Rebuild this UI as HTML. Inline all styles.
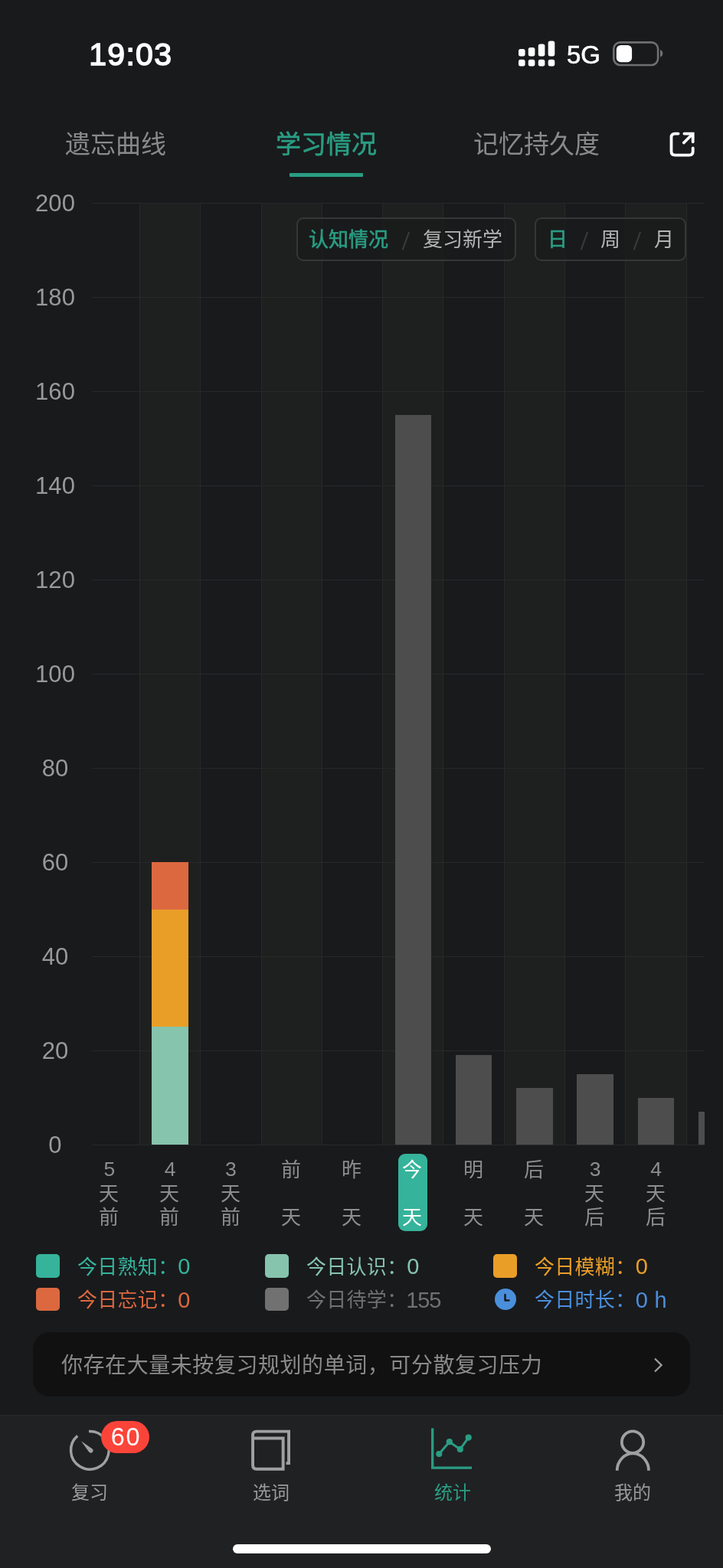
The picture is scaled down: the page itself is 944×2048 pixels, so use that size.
<!DOCTYPE html>
<html lang="zh-CN"><head><meta charset="utf-8"><title>统计 - 学习情况</title>
<style>
*{margin:0;padding:0;box-sizing:border-box}
html,body{width:944px;height:2048px;background:#191a1c;overflow:hidden}
body{position:relative;will-change:transform;font-family:"Liberation Sans",sans-serif;color:#fff}
svg{display:block;overflow:visible}
svg text{font-family:"Liberation Sans","Noto Sans CJK SC",sans-serif}
.abs{position:absolute}
.status .time{position:absolute;left:116.2px;top:47.2px;font-size:41px;line-height:48px;letter-spacing:1.3px;-webkit-text-stroke:1.5px #fff}
.status .net{position:absolute;left:740px;top:53px;font-size:33px;line-height:38px;-webkit-text-stroke:0.6px #fff}
.tabs svg{position:absolute}
.tabs .ul{position:absolute;left:378px;top:226px;width:96px;height:5px;background:#2a9d83;border-radius:1px}
.chart{position:absolute;left:120px;top:250px;width:800px;height:1246px;overflow:hidden}
.chart .stripe{position:absolute;top:15px;height:1230px;background:#1e201f}
.chart .vl{position:absolute;top:15px;height:1230px;width:1px;background:#272929}
.chart .hl{position:absolute;left:0;width:800px;height:1px;background:#272929}
.chart .bar{position:absolute;width:47.5px}
.ylab{position:absolute;left:32px;width:80px;text-align:center;font-size:31px;line-height:32px;color:#999;letter-spacing:.15px;padding-left:.15px}
.seg{position:absolute;top:284px;height:57px;border:2px solid #353737;border-radius:9px;background:rgba(25,26,28,.72)}
.seg svg{position:absolute;top:12.8px}
.seg .sl{position:absolute;top:15.5px;width:1.6px;height:24.5px;background:#3a3c3c;transform:rotate(20deg)}
.xl{position:absolute;top:1512px;width:40px;text-align:center;color:#8e8e8e;font-size:26.5px;line-height:31.3px}
.xl svg{position:absolute;left:6.2px}
.xl .d{position:absolute;left:0;width:40px;top:0}
.pill{position:absolute;left:520px;top:1507px;width:38px;height:101px;border-radius:9px;background:#35b39b}
.lg{position:absolute;height:34px}
.lg .sq{position:absolute;left:0;top:2px;width:31px;height:30px;border-radius:5px}
.lg .tx{position:absolute;left:53.8px;top:4.3px;display:flex;align-items:flex-start;white-space:nowrap}
.lg .n{word-spacing:2.5px;font-size:29px;line-height:28px;letter-spacing:-.9px;margin-left:.4px;position:relative;top:-.4px}
.banner{position:absolute;left:43px;top:1740px;width:858px;height:84px;border-radius:22px;background:#111}
.banner svg{position:absolute}
.tabbar{position:absolute;left:0;top:1848px;width:944px;height:200px;background:#202123}
.tabbar::before{content:'';position:absolute;left:0;top:-.4px;width:944px;height:1.3px;background:#282a2a}
.tabbar svg{position:absolute}
.badge{position:absolute;left:132.1px;top:8.2px;width:63.3px;height:42.3px;border-radius:21.2px;background:#fb4439;color:#fff;font-size:32.5px;line-height:42.3px;text-align:center;letter-spacing:1.6px;padding-left:1.6px}
.home{position:absolute;left:304px;top:169px;width:337px;height:12px;border-radius:6px;background:#fff}
</style></head>
<body>
<header class="status">
<div class="time">19:03</div>
<svg class="abs" style="left:0;top:0;width:944px;height:110px" viewBox="0 0 944 110" fill="#fff"><rect x="677" y="64.1" width="8.6" height="9.3" rx="2.6"/><rect x="677" y="77.8" width="8.6" height="8.6" rx="2.6"/><rect x="689.8" y="61.9" width="8.6" height="11.5" rx="2.6"/><rect x="689.8" y="77.8" width="8.6" height="8.6" rx="2.6"/><rect x="702.8" y="57.5" width="8.6" height="15.9" rx="2.6"/><rect x="702.8" y="77.8" width="8.6" height="8.6" rx="2.6"/><rect x="715.7" y="53.6" width="8.6" height="19.8" rx="2.6"/><rect x="715.7" y="77.8" width="8.6" height="8.6" rx="2.6"/><rect x="801.3" y="55.4" width="57.8" height="29.6" rx="8.4" fill="none" stroke="#6e7070" stroke-width="2.6"/><rect x="804.8" y="58.9" width="20.3" height="22.4" rx="5.8"/><path d="M862 65 C866.5 66.5 866.5 73 862 74.6 Z" fill="#6e7070"/></svg>
<div class="net">5G</div>
</header>
<nav class="tabs">
<svg role="img" aria-label="遗忘曲线" viewBox="0 -880 4000 1000" style="width:132.00px;height:33.00px;fill:#8a8a8a;left:85px;top:171px"><title>遗忘曲线</title><text x="0" y="0" font-size="1000">遗忘曲线</text></svg>
<svg role="img" aria-label="学习情况" viewBox="0 -880 4000 1000" style="width:132.00px;height:33.00px;fill:#2a9d83;stroke:#2a9d83;stroke-width:18;left:359.5px;top:171px"><title>学习情况</title><text x="0" y="0" font-size="1000">学习情况</text></svg>
<svg role="img" aria-label="记忆持久度" viewBox="0 -880 5000 1000" style="width:165.00px;height:33.00px;fill:#8a8a8a;left:617.5px;top:171px"><title>记忆持久度</title><text x="0" y="0" font-size="1000">记忆持久度</text></svg>
<div class="ul"></div>
<svg style="left:870px;top:168px;width:40px;height:40px" viewBox="870 168 40 40" fill="none" stroke="#fff" stroke-width="3.8" stroke-linecap="round"><path d="M885.6 174.6H881.3Q876.5 174.6 876.5 179.4V197.8Q876.5 202.6 881.3 202.6H899.9Q904.7 202.6 904.7 197.8V193.3"/><path d="M893.4 174.6H904.7V185.3" stroke-linejoin="miter"/><path d="M904.3 175L892.8 186.5"/></svg>
</nav>
<div class="chart">
<div class="stripe" style="left:62.5px;width:79.3px"></div>
<div class="stripe" style="left:221.1px;width:79.3px"></div>
<div class="stripe" style="left:379.7px;width:79.3px"></div>
<div class="stripe" style="left:538.2px;width:79.3px"></div>
<div class="stripe" style="left:696.8px;width:79.3px"></div>
<div class="vl" style="left:62.0px"></div>
<div class="vl" style="left:141.3px"></div>
<div class="vl" style="left:220.6px"></div>
<div class="vl" style="left:299.9px"></div>
<div class="vl" style="left:379.2px"></div>
<div class="vl" style="left:458.4px"></div>
<div class="vl" style="left:537.7px"></div>
<div class="vl" style="left:617.0px"></div>
<div class="vl" style="left:696.3px"></div>
<div class="vl" style="left:775.6px"></div>
<div class="hl" style="top:1244.5px"></div>
<div class="hl" style="top:1121.5px"></div>
<div class="hl" style="top:998.5px"></div>
<div class="hl" style="top:875.5px"></div>
<div class="hl" style="top:752.5px"></div>
<div class="hl" style="top:629.5px"></div>
<div class="hl" style="top:506.5px"></div>
<div class="hl" style="top:383.5px"></div>
<div class="hl" style="top:260.5px"></div>
<div class="hl" style="top:137.5px"></div>
<div class="hl" style="top:14.5px"></div>
<div class="bar" style="left:78.4px;top:1091.2px;height:153.8px;background:#86c4ad"></div>
<div class="bar" style="left:78.4px;top:937.5px;height:153.8px;background:#e99e28"></div>
<div class="bar" style="left:78.4px;top:876.0px;height:61.5px;background:#dc6840"></div>
<div class="bar" style="left:395.5px;top:291.8px;height:953.2px;background:#4d4d4d"></div>
<div class="bar" style="left:474.8px;top:1128.2px;height:116.9px;background:#4d4d4d"></div>
<div class="bar" style="left:554.1px;top:1171.2px;height:73.8px;background:#4d4d4d"></div>
<div class="bar" style="left:633.4px;top:1152.8px;height:92.2px;background:#4d4d4d"></div>
<div class="bar" style="left:712.7px;top:1183.5px;height:61.5px;background:#4d4d4d"></div>
<div class="bar" style="left:792.0px;top:1202.0px;height:43.1px;background:#4d4d4d"></div>
</div>
<div class="ylab" style="top:1479.7px">0</div>
<div class="ylab" style="top:1356.7px">20</div>
<div class="ylab" style="top:1233.7px">40</div>
<div class="ylab" style="top:1110.7px">60</div>
<div class="ylab" style="top:987.7px">80</div>
<div class="ylab" style="top:864.7px">100</div>
<div class="ylab" style="top:741.7px">120</div>
<div class="ylab" style="top:618.7px">140</div>
<div class="ylab" style="top:495.7px">160</div>
<div class="ylab" style="top:372.7px">180</div>
<div class="ylab" style="top:249.7px">200</div>
<div class="seg" style="left:387px;width:287px"><svg role="img" aria-label="认知情况" viewBox="0 -880 4000 1000" style="width:104.00px;height:26.00px;fill:#2a9d83;stroke:#2a9d83;stroke-width:24;left:14.4px"><title>认知情况</title><text x="0" y="0" font-size="1000">认知情况</text></svg><div class="sl" style="left:139.5px"></div><svg role="img" aria-label="复习新学" viewBox="0 -880 4000 1000" style="width:104.00px;height:26.00px;fill:#b4b4b4;left:162.5px"><title>复习新学</title><text x="0" y="0" font-size="1000">复习新学</text></svg></div>
<div class="seg" style="left:698px;width:198px"><svg role="img" aria-label="日" viewBox="0 -880 1000 1000" style="width:26.00px;height:26.00px;fill:#2a9d83;stroke:#2a9d83;stroke-width:24;left:15px"><title>日</title><text x="0" y="0" font-size="1000">日</text></svg><div class="sl" style="left:61.5px"></div><svg role="img" aria-label="周" viewBox="0 -880 1000 1000" style="width:26.00px;height:26.00px;fill:#b4b4b4;left:84.2px"><title>周</title><text x="0" y="0" font-size="1000">周</text></svg><div class="sl" style="left:130.5px"></div><svg role="img" aria-label="月" viewBox="0 -880 1000 1000" style="width:26.00px;height:26.00px;fill:#b4b4b4;left:154.3px"><title>月</title><text x="0" y="0" font-size="1000">月</text></svg></div>
<div class="pill"></div>
<div class="xl" style="left:122.8px;color:#8e8e8e"><div class="d" style="top:0.0px">5</div><svg role="img" aria-label="天" viewBox="0 -880 1000 1000" style="width:26.00px;height:26.00px;fill:#8e8e8e;top:33.0px"><title>天</title><text x="0" y="0" font-size="1000">天</text></svg><svg role="img" aria-label="前" viewBox="0 -880 1000 1000" style="width:26.00px;height:26.00px;fill:#8e8e8e;top:64.3px"><title>前</title><text x="0" y="0" font-size="1000">前</text></svg></div>
<div class="xl" style="left:202.1px;color:#8e8e8e"><div class="d" style="top:0.0px">4</div><svg role="img" aria-label="天" viewBox="0 -880 1000 1000" style="width:26.00px;height:26.00px;fill:#8e8e8e;top:33.0px"><title>天</title><text x="0" y="0" font-size="1000">天</text></svg><svg role="img" aria-label="前" viewBox="0 -880 1000 1000" style="width:26.00px;height:26.00px;fill:#8e8e8e;top:64.3px"><title>前</title><text x="0" y="0" font-size="1000">前</text></svg></div>
<div class="xl" style="left:281.4px;color:#8e8e8e"><div class="d" style="top:0.0px">3</div><svg role="img" aria-label="天" viewBox="0 -880 1000 1000" style="width:26.00px;height:26.00px;fill:#8e8e8e;top:33.0px"><title>天</title><text x="0" y="0" font-size="1000">天</text></svg><svg role="img" aria-label="前" viewBox="0 -880 1000 1000" style="width:26.00px;height:26.00px;fill:#8e8e8e;top:64.3px"><title>前</title><text x="0" y="0" font-size="1000">前</text></svg></div>
<div class="xl" style="left:360.7px;color:#8e8e8e"><svg role="img" aria-label="前" viewBox="0 -880 1000 1000" style="width:26.00px;height:26.00px;fill:#8e8e8e;top:1.7px"><title>前</title><text x="0" y="0" font-size="1000">前</text></svg><svg role="img" aria-label="天" viewBox="0 -880 1000 1000" style="width:26.00px;height:26.00px;fill:#8e8e8e;top:64.3px"><title>天</title><text x="0" y="0" font-size="1000">天</text></svg></div>
<div class="xl" style="left:440.0px;color:#8e8e8e"><svg role="img" aria-label="昨" viewBox="0 -880 1000 1000" style="width:26.00px;height:26.00px;fill:#8e8e8e;top:1.7px"><title>昨</title><text x="0" y="0" font-size="1000">昨</text></svg><svg role="img" aria-label="天" viewBox="0 -880 1000 1000" style="width:26.00px;height:26.00px;fill:#8e8e8e;top:64.3px"><title>天</title><text x="0" y="0" font-size="1000">天</text></svg></div>
<div class="xl" style="left:519.3px;color:#fff"><svg role="img" aria-label="今" viewBox="0 -880 1000 1000" style="width:26.00px;height:26.00px;fill:#fff;top:1.7px"><title>今</title><text x="0" y="0" font-size="1000">今</text></svg><svg role="img" aria-label="天" viewBox="0 -880 1000 1000" style="width:26.00px;height:26.00px;fill:#fff;top:64.3px"><title>天</title><text x="0" y="0" font-size="1000">天</text></svg></div>
<div class="xl" style="left:598.6px;color:#8e8e8e"><svg role="img" aria-label="明" viewBox="0 -880 1000 1000" style="width:26.00px;height:26.00px;fill:#8e8e8e;top:1.7px"><title>明</title><text x="0" y="0" font-size="1000">明</text></svg><svg role="img" aria-label="天" viewBox="0 -880 1000 1000" style="width:26.00px;height:26.00px;fill:#8e8e8e;top:64.3px"><title>天</title><text x="0" y="0" font-size="1000">天</text></svg></div>
<div class="xl" style="left:677.9px;color:#8e8e8e"><svg role="img" aria-label="后" viewBox="0 -880 1000 1000" style="width:26.00px;height:26.00px;fill:#8e8e8e;top:1.7px"><title>后</title><text x="0" y="0" font-size="1000">后</text></svg><svg role="img" aria-label="天" viewBox="0 -880 1000 1000" style="width:26.00px;height:26.00px;fill:#8e8e8e;top:64.3px"><title>天</title><text x="0" y="0" font-size="1000">天</text></svg></div>
<div class="xl" style="left:757.2px;color:#8e8e8e"><div class="d" style="top:0.0px">3</div><svg role="img" aria-label="天" viewBox="0 -880 1000 1000" style="width:26.00px;height:26.00px;fill:#8e8e8e;top:33.0px"><title>天</title><text x="0" y="0" font-size="1000">天</text></svg><svg role="img" aria-label="后" viewBox="0 -880 1000 1000" style="width:26.00px;height:26.00px;fill:#8e8e8e;top:64.3px"><title>后</title><text x="0" y="0" font-size="1000">后</text></svg></div>
<div class="xl" style="left:836.5px;color:#8e8e8e"><div class="d" style="top:0.0px">4</div><svg role="img" aria-label="天" viewBox="0 -880 1000 1000" style="width:26.00px;height:26.00px;fill:#8e8e8e;top:33.0px"><title>天</title><text x="0" y="0" font-size="1000">天</text></svg><svg role="img" aria-label="后" viewBox="0 -880 1000 1000" style="width:26.00px;height:26.00px;fill:#8e8e8e;top:64.3px"><title>后</title><text x="0" y="0" font-size="1000">后</text></svg></div>
<div class="lg" style="left:46.8px;top:1636.5px;color:#35b39b"><div class="sq" style="background:#35b39b;top:1.5px;height:31px"></div><div class="tx"><svg role="img" aria-label="今日熟知：" viewBox="0 -880 5046 1000" style="width:131.20px;height:26.00px;fill:#35b39b;"><title>今日熟知：</title><text x="0" y="0" font-size="1000" letter-spacing="11.5">今日熟知：</text></svg><span class="n">0</span></div></div>
<div class="lg" style="left:345.9px;top:1636.5px;color:#86c4ad"><div class="sq" style="background:#86c4ad;top:1.5px;height:31px"></div><div class="tx"><svg role="img" aria-label="今日认识：" viewBox="0 -880 5046 1000" style="width:131.20px;height:26.00px;fill:#86c4ad;"><title>今日认识：</title><text x="0" y="0" font-size="1000" letter-spacing="11.5">今日认识：</text></svg><span class="n">0</span></div></div>
<div class="lg" style="left:644.3px;top:1636.5px;color:#e99e28"><div class="sq" style="background:#e99e28;top:1.5px;height:31px"></div><div class="tx"><svg role="img" aria-label="今日模糊：" viewBox="0 -880 5046 1000" style="width:131.20px;height:26.00px;fill:#e99e28;"><title>今日模糊：</title><text x="0" y="0" font-size="1000" letter-spacing="11.5">今日模糊：</text></svg><span class="n">0</span></div></div>
<div class="lg" style="left:46.8px;top:1680px;color:#dc6840"><div class="sq" style="background:#dc6840;"></div><div class="tx"><svg role="img" aria-label="今日忘记：" viewBox="0 -880 5046 1000" style="width:131.20px;height:26.00px;fill:#dc6840;"><title>今日忘记：</title><text x="0" y="0" font-size="1000" letter-spacing="11.5">今日忘记：</text></svg><span class="n">0</span></div></div>
<div class="lg" style="left:345.9px;top:1680px;color:#717171"><div class="sq" style="background:#717171;"></div><div class="tx"><svg role="img" aria-label="今日待学：" viewBox="0 -880 5046 1000" style="width:131.20px;height:26.00px;fill:#717171;"><title>今日待学：</title><text x="0" y="0" font-size="1000" letter-spacing="11.5">今日待学：</text></svg><span class="n" style="margin-left:-.7px;letter-spacing:-1.1px">155</span></div></div>
<div class="lg" style="left:644.3px;top:1680px;color:#4a8fdc"><svg class="abs" style="left:1.5px;top:3.2px;width:28px;height:28px" viewBox="0 0 28 28"><circle cx="14" cy="14" r="14" fill="#4a8fdc"/><path d="M13.5 7.9V15.6H18.5" fill="none" stroke="#191a1c" stroke-width="2.5" stroke-linecap="round" stroke-linejoin="round"/></svg><div class="tx"><svg role="img" aria-label="今日时长：" viewBox="0 -880 5046 1000" style="width:131.20px;height:26.00px;fill:#4a8fdc;"><title>今日时长：</title><text x="0" y="0" font-size="1000" letter-spacing="11.5">今日时长：</text></svg><span class="n">0&nbsp;h</span></div></div>
<div class="banner"><svg role="img" aria-label="你存在大量未按复习规划的单词，可分散复习压力" viewBox="0 -880 22428 1000" style="width:627.97px;height:28.00px;fill:#8a8a8a;left:36.6px;top:28.1px"><title>你存在大量未按复习规划的单词，可分散复习压力</title><text x="0" y="0" font-size="1000" letter-spacing="20.4">你存在大量未按复习规划的单词，可分散复习压力</text></svg><svg style="left:808px;top:30px;width:20px;height:26px" viewBox="0 0 20 26" fill="none" stroke="#a0a0a0" stroke-width="2.2"><path d="M4 4.5L12.6 13L4 21.5"/></svg></div>
<nav class="tabbar">
<svg style="left:86px;top:14px;width:64px;height:64px" viewBox="86 1862 64 64" fill="none" stroke="#a0a0a0" stroke-width="3.4"><path d="M116 1869.5A24.8 24.8 0 1 1 101.2 1875.4"/><path d="M106 1882.2L120.4 1892.3A3 3 0 1 1 116.2 1896.5Z" fill="#a0a0a0" stroke="none"/></svg>
<div class="badge">60</div>
<svg role="img" aria-label="复习" viewBox="0 -880 2000 1000" style="width:48.00px;height:24.00px;fill:#9a9a9a;left:93.2px;top:88.6px"><title>复习</title><text x="0" y="0" font-size="1000" stroke="none">复习</text></svg>
<svg style="left:320px;top:14px;width:64px;height:64px" viewBox="320 1862 64 64" fill="none" stroke="#a0a0a0" stroke-width="3.9"><path d="M373.5 1911.1H377.05V1869.65H335Q330.05 1869.65 330.05 1874.6V1913.8Q330.05 1918.75 335 1918.75H369.65V1878.5H331"/></svg>
<svg role="img" aria-label="选词" viewBox="0 -880 2000 1000" style="width:48.00px;height:24.00px;fill:#9a9a9a;left:329.6px;top:88.6px"><title>选词</title><text x="0" y="0" font-size="1000" stroke="none">选词</text></svg>
<svg style="left:556px;top:14px;width:64px;height:64px" viewBox="556 1862 64 64" fill="none" stroke="#2a9d83" stroke-width="3.3"><path d="M564.7 1865.4V1917.1H616"/><path d="M573.3 1899L586.8 1883.2L600.8 1892.9L611.7 1877.6" stroke-width="3"/><g fill="#2a9d83" stroke="none"><circle cx="573.3" cy="1899" r="4.1"/><circle cx="586.8" cy="1883.2" r="4.1"/><circle cx="600.8" cy="1892.9" r="4.1"/><circle cx="611.7" cy="1877.6" r="4.1"/></g></svg>
<svg role="img" aria-label="统计" viewBox="0 -880 2000 1000" style="width:48.00px;height:24.00px;fill:#2a9d83;left:566.6px;top:88.6px"><title>统计</title><text x="0" y="0" font-size="1000" stroke="none">统计</text></svg>
<svg style="left:794px;top:14px;width:64px;height:64px" viewBox="794 1862 64 64" fill="none" stroke="#a0a0a0" stroke-width="3.8"><circle cx="826" cy="1883.6" r="14.2"/><path d="M805.7 1920.8A20.65 22.4 0 0 1 847 1920.8"/></svg>
<svg role="img" aria-label="我的" viewBox="0 -880 2000 1000" style="width:48.00px;height:24.00px;fill:#9a9a9a;left:802px;top:88.6px"><title>我的</title><text x="0" y="0" font-size="1000" stroke="none">我的</text></svg>
<div class="home"></div>
</nav>
</body></html>
